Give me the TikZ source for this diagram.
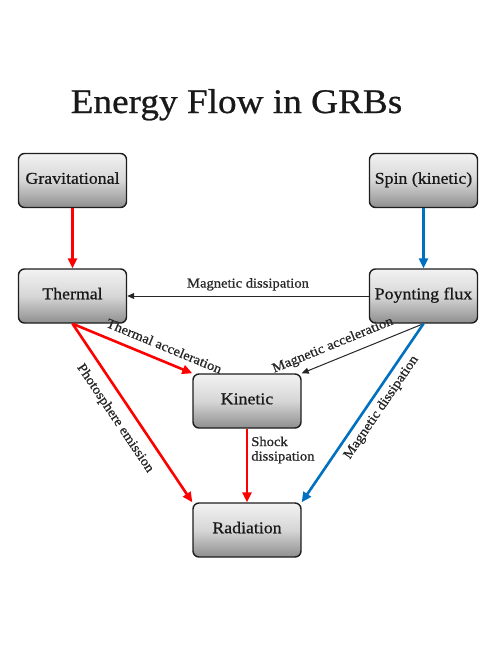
\documentclass[tikz,border=0pt]{standalone}
\usepackage{fontspec}
\setmainfont{Liberation Serif}[FakeStretch=1.08, FakeBold=0.7]
\usetikzlibrary{arrows.meta}
\definecolor{myred}{RGB}{255,0,0}
\definecolor{myblue}{RGB}{0,112,192}
\definecolor{boxline}{RGB}{30,30,30}
\begin{document}
\begin{tikzpicture}[x=1pt,y=-1pt,
  box/.style={draw=boxline, line width=1.4pt, rounded corners=6pt,
    minimum width=108pt, minimum height=54pt, inner sep=0pt,
    top color=gray!10, bottom color=gray!88, middle color=gray!32,
    font=\fontsize{16.5}{19}\selectfont, text=black!90, text height=0.8em, text depth=0.15em},
  redarrow/.style={draw=myred, line width=2.6pt, -{Triangle[length=10pt,width=9pt]}},
  bluearrow/.style={draw=myblue, line width=2.6pt, -{Triangle[length=10pt,width=9pt]}},
  blackarrow/.style={draw=black!85, line width=1pt, -{Triangle[length=7pt,width=6pt]}},
  lbl/.style={font=\fontsize{13.5}{14.5}\selectfont, text=black!85},
]
\fill[white] (0,0) rectangle (498,645);
\useasboundingbox (0,0) rectangle (498,645);

\node[font=\fontsize{34.5}{40}\selectfont, text=black!90, anchor=base] (title) at (236.5,113) {Energy Flow in GRBs};

\node[box] (grav) at (72.5,180.5) {Gravitational};
\node[box] (spin) at (423.5,180.5) {Spin (kinetic)};
\node[box] (thermal) at (72.5,296) {Thermal};
\node[box] (poynting) at (423.5,296) {Poynting flux};
\node[box] (kinetic) at (247,401) {Kinetic};
\node[box] (radiation) at (247,530) {Radiation};

\draw[redarrow] (grav.south) -- (thermal.north);
\draw[bluearrow] (spin.south) -- (poynting.north);
\draw[blackarrow] (poynting.west) -- node[lbl, above, inner sep=5pt] (lmd) {Magnetic dissipation} (thermal.east);
\draw[redarrow] (thermal.south) -- node[lbl, pos=0.72, sloped, anchor=south, inner sep=8.5pt] (lta) {Thermal acceleration} (kinetic.north west);
\draw[redarrow] (thermal.south) -- node[lbl, pos=0.476, sloped, anchor=north, inner sep=10pt] (lpe) {Photosphere emission} (radiation.north west);
\draw[blackarrow] (poynting.south) -- node[lbl, pos=0.70, sloped, anchor=south, inner sep=7.5pt] (lma) {Magnetic acceleration} (kinetic.north east);
\draw[bluearrow] (poynting.south) -- node[lbl, pos=0.43, sloped, anchor=north, inner sep=5pt] (lmd2) {Magnetic dissipation} (radiation.north east);
\draw[redarrow] (kinetic.south) -- node[lbl, pos=0.29, anchor=west, inner sep=3pt, align=left] (lsd) {Shock\\dissipation} (radiation.north);
\end{tikzpicture}
\end{document}
